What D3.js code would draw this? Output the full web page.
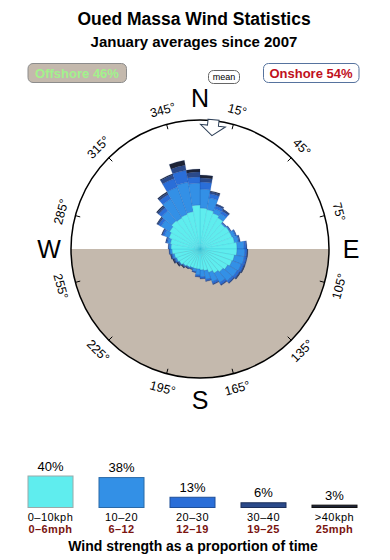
<!DOCTYPE html>
<html>
<head>
<meta charset="utf-8">
<script src="https://cdn.jsdelivr.net/npm/d3@7"></script>
<style>
  html, body { margin: 0; padding: 0; background: #fff; }
  svg { display: block; font-family: "Liberation Sans", Arial, sans-serif; }
</style>
</head>
<body>
<div id="chart"></div>
<script>
// --- data ---
const titleText = "Oued Massa Wind Statistics";
const subtitleText = "January averages since 2007";
const offshorePct = 46;
const onshorePct = 54;
const meanDirection = 6; // degrees

// sector centres (degrees, clockwise from north), 10 degree wide sectors
const sectorDirs = d3.range(5, 360, 10);

// percent of time per sector, per speed class
const speed0to10 = [2.10, 2.00, 1.81, 1.62, 1.36, 1.45, 1.45, 1.53, 1.71, 1.71, 1.53, 1.45,
  1.28, 1.13, 0.98, 0.78, 0.61, 0.55, 0.50, 0.50, 0.50, 0.55, 0.61, 0.72,
  0.78, 0.85, 0.98, 1.05, 1.13, 1.36, 1.53, 1.71, 1.62, 1.71, 1.81, 2.42];
const speed10to20 = [2.40, 1.38, 0.50, 0.48, 0.09, 0.08, 0.31, 0.37, 0.71, 0.82, 1.00, 0.97,
  1.03, 1.08, 0.92, 0.75, 0.59, 0.43, 0.35, 0.16, 0.05, 0.03, 0.05, 0.03,
  0.07, 0.13, 0.15, 0.15, 0.23, 0.45, 1.00, 1.42, 2.59, 3.73, 3.97, 3.03];
const speed20to30 = [1.11, 0.54, 0.34, 0.32, 0.04, 0.05, 0.09, 0.10, 0.23, 0.23, 0.23, 0.28,
  0.28, 0.22, 0.20, 0.18, 0.12, 0.11, 0.10, 0.03, 0.03, 0.03, 0.03, 0.03,
  0.07, 0.07, 0.04, 0.04, 0.09, 0.20, 0.35, 0.52, 0.75, 1.59, 2.22, 1.03];
const speed30to40 = [0.69, 0.29, 0.17, 0.17, 0.04, 0.04, 0.05, 0.10, 0.11, 0.06, 0.12, 0.12,
  0.11, 0.11, 0.11, 0.09, 0.04, 0.04, 0.04, 0.03, 0.03, 0.03, 0.03, 0.07,
  0.07, 0.04, 0.04, 0.04, 0.09, 0.05, 0.18, 0.27, 0.32, 0.77, 1.03, 0.93];
const speed40plus = [0.55, 0.14, 0.06, 0.06, 0, 0, 0, 0, 0, 0.06, 0, 0.06,
  0.06, 0, 0, 0, 0, 0, 0, 0, 0, 0.03, 0.06, 0.07,
  0.07, 0.04, 0, 0, 0, 0.05, 0.07, 0.14, 0.17, 0.20, 1.10, 0.59];

// legend
const speedClasses = ["0–10kph", "10–20", "20–30", "30–40", ">40kph"];
const speedClassesMph = ["0–6mph", "6–12", "12–19", "19–25", "25mph"];
const speedShare = [40, 38, 13, 6, 3];
const speedColors = ["#5fedee", "#3390e6", "#2a6ed8", "#2b4a8a", "#1d2336"];
const speedStrokes = ["#9aa", "#2a6aa8", "#1f4f9a", "#1c2f5a", "#111"];

// compass labels
const degreeTicks = d3.range(15, 360, 30);
const cardinals = [{ t: "N", a: 0 }, { t: "E", a: 90 }, { t: "S", a: 180 }, { t: "W", a: 270 }];

// --- layout ---
const W = 390, H = 560;
const cx = 200, cy = 249, R = 129;

const svg = d3.select("#chart").append("svg")
  .attr("width", W).attr("height", H);

// titles
svg.append("text").attr("x", 194).attr("y", 25)
  .attr("text-anchor", "middle").style("font-size", "17.5px").style("font-weight", "bold")
  .text(titleText);
svg.append("text").attr("x", 194).attr("y", 47)
  .attr("text-anchor", "middle").style("font-size", "15px").style("font-weight", "bold")
  .text(subtitleText);

// offshore / onshore boxes
svg.append("rect").attr("x", 28).attr("y", 63.5).attr("width", 98.5).attr("height", 19)
  .attr("rx", 5).attr("fill", "#c4b9ad").attr("stroke", "#8c8c8c");
svg.append("text").attr("x", 77).attr("y", 77.5).attr("text-anchor", "middle")
  .style("font-size", "13px").style("font-weight", "bold").attr("fill", "#a2f28c")
  .text(`Offshore ${offshorePct}%`);

svg.append("rect").attr("x", 263.5).attr("y", 63.5).attr("width", 95.5).attr("height", 19)
  .attr("rx", 5).attr("fill", "#fff").attr("stroke", "#56739e");
svg.append("text").attr("x", 311).attr("y", 77.5).attr("text-anchor", "middle")
  .style("font-size", "13px").style("font-weight", "bold").attr("fill", "#c0101c")
  .text(`Onshore ${onshorePct}%`);

svg.append("rect").attr("x", 208.5).attr("y", 70.5).attr("width", 31).attr("height", 13)
  .attr("rx", 5).attr("fill", "#fff").attr("stroke", "#666");
svg.append("text").attr("x", 224).attr("y", 80).attr("text-anchor", "middle")
  .style("font-size", "9px").text("mean");

// --- compass ---
const g = svg.append("g").attr("transform", `translate(${cx},${cy})`);
const rad = d => d * Math.PI / 180;

// land (southern half)
g.append("path")
  .attr("d", d3.arc()({ innerRadius: 0, outerRadius: R, startAngle: Math.PI / 2, endAngle: 3 * Math.PI / 2 }))
  .attr("fill", "#c4b9ad");

// radius scale: area proportional to time share
const r = d3.scaleSqrt().domain([0, 20.8]).range([0, R]);

const series = [speed0to10, speed10to20, speed20to30, speed30to40, speed40plus];
const stacked = [];
sectorDirs.forEach((dir, i) => {
  let acc = 0;
  series.forEach((s, k) => {
    const v = s[i];
    if (v > 0) stacked.push({ dir, k, y0: acc, y1: acc + v });
    acc += v;
  });
});

const arc = d3.arc()
  .innerRadius(d => r(d.y0))
  .outerRadius(d => r(d.y1))
  .startAngle(d => rad(d.dir - 5))
  .endAngle(d => rad(d.dir + 5));

g.selectAll(".wedge")
  .data(stacked)
  .enter().append("path")
  .attr("class", "wedge")
  .attr("d", arc)
  .attr("fill", d => speedColors[d.k])
  .attr("stroke", d => d.k === 0 ? "rgba(60,190,215,0.6)" : "rgba(20,60,140,0.35)")
  .attr("stroke-width", 0.5);

// outline
g.append("circle").attr("r", R).attr("fill", "none").attr("stroke", "#000").attr("stroke-width", 1.5);

// ticks and degree labels
degreeTicks.forEach(a => {
  const s = Math.sin(rad(a)), c = -Math.cos(rad(a));
  g.append("line")
    .attr("x1", (R - 5) * s).attr("y1", (R - 5) * c)
    .attr("x2", R * s).attr("y2", R * c)
    .attr("stroke", "#000").attr("stroke-width", 1);
  let rot = a % 180;
  if (rot > 90) rot -= 180;
  const lr = R + 15;
  g.append("text")
    .attr("transform", `translate(${lr * s},${lr * c}) rotate(${rot})`)
    .attr("text-anchor", "middle").attr("dy", "0.35em")
    .style("font-size", "12.5px")
    .text(a + "°");
});

cardinals.forEach(d => {
  const lr = 151;
  g.append("text")
    .attr("x", lr * Math.sin(rad(d.a))).attr("y", -lr * Math.cos(rad(d.a)))
    .attr("text-anchor", "middle").attr("dy", "0.36em")
    .style("font-size", "25px")
    .text(d.t);
});

// mean direction arrow
g.append("path")
  .attr("transform", `rotate(${meanDirection})`)
  .attr("d", d3.line()([[-5.5, -R - 1], [5.5, -R - 1], [5.5, -R + 5], [12.5, -R + 5],
    [0, -R + 15], [-12.5, -R + 5], [-5.5, -R + 5]]) + "Z")
  .attr("fill", "#fff").attr("stroke", "#2e4058").attr("stroke-width", 1);

// --- legend ---
const x = d3.scaleBand().domain(speedClasses).range([28, 357]).paddingInner(0.366).paddingOuter(0);
const h = d3.scaleLinear().domain([0, 40]).range([0, 31.5]);
const base = 507.5;

const lg = svg.append("g");
lg.selectAll(".bar").data(speedClasses).enter().append("rect")
  .attr("x", d => x(d)).attr("width", x.bandwidth())
  .attr("y", (d, i) => base - h(speedShare[i]))
  .attr("height", (d, i) => h(speedShare[i]))
  .attr("fill", (d, i) => speedColors[i])
  .attr("stroke", (d, i) => speedStrokes[i]);

lg.selectAll(".pct").data(speedClasses).enter().append("text")
  .attr("x", d => x(d) + x.bandwidth() / 2)
  .attr("y", (d, i) => base - h(speedShare[i]) - 5.5)
  .attr("text-anchor", "middle").style("font-size", "13px")
  .text((d, i) => speedShare[i] + "%");

lg.selectAll(".kph").data(speedClasses).enter().append("text")
  .attr("x", d => x(d) + x.bandwidth() / 2).attr("y", 520.5)
  .attr("text-anchor", "middle").style("font-size", "11px").style("letter-spacing", "0.5px")
  .text(d => d);

lg.selectAll(".mph").data(speedClassesMph).enter().append("text")
  .attr("x", (d, i) => x(speedClasses[i]) + x.bandwidth() / 2).attr("y", 533)
  .attr("text-anchor", "middle").style("font-size", "11px").style("font-weight", "bold")
  .style("letter-spacing", "0.4px")
  .attr("fill", "#7a1410")
  .text(d => d);

svg.append("text").attr("x", 193).attr("y", 551)
  .attr("text-anchor", "middle").style("font-size", "14px").style("font-weight", "bold")
  .text("Wind strength as a proportion of time");
</script>
</body>
</html>
